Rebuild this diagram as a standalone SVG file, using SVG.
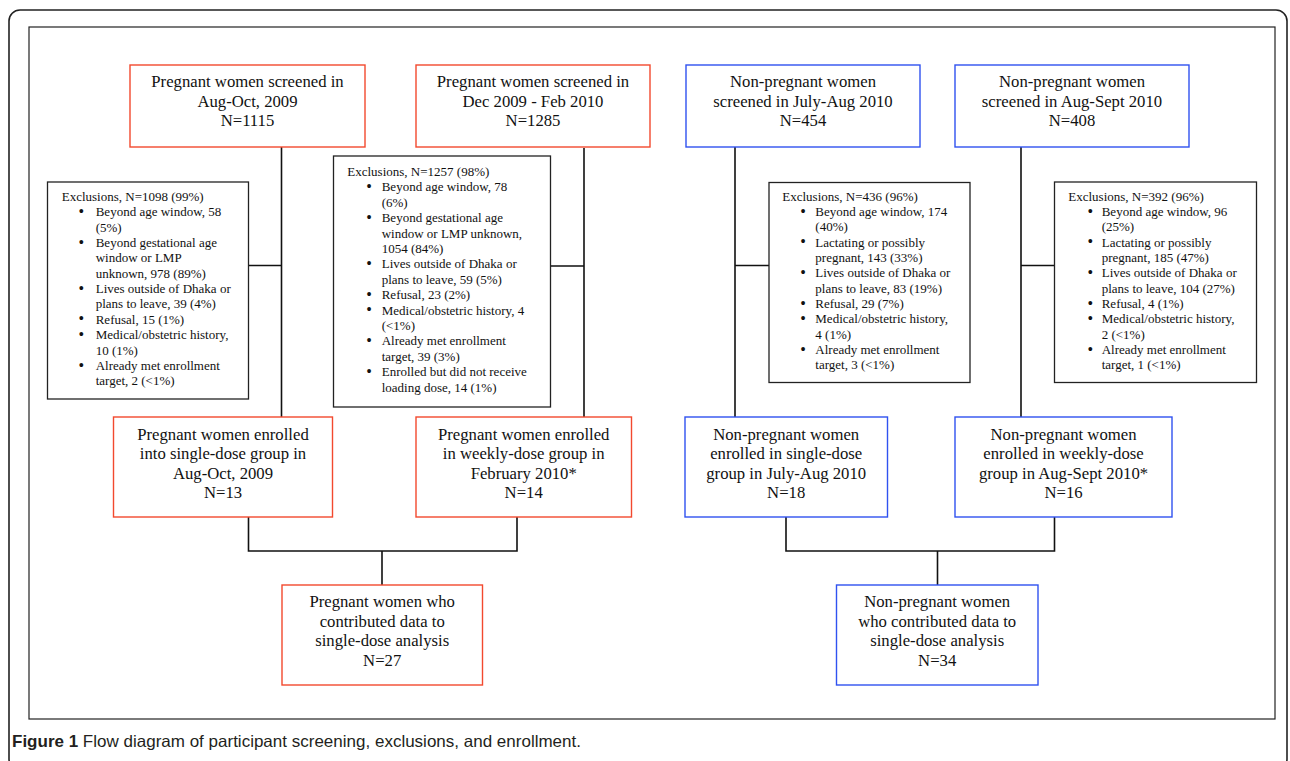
<svg xmlns="http://www.w3.org/2000/svg" width="1290" height="761" viewBox="0 0 1290 761">
<style>
.frame{fill:none;stroke:#222;stroke-width:1.6}
.inner{fill:none;stroke:#222;stroke-width:1.2}
.red{fill:#fff;stroke:#f2492e;stroke-width:1.4}
.blue{fill:#fff;stroke:#2f52f0;stroke-width:1.4}
.ex{fill:#fff;stroke:#222;stroke-width:1.3}
.conn{fill:none;stroke:#111;stroke-width:1.6}
.t{font-family:"Liberation Serif","Times New Roman",serif;font-size:16.7px;fill:#111;text-anchor:middle}
.e{font-family:"Liberation Serif","Times New Roman",serif;font-size:13px;fill:#111}
.b{font-size:16px}
.cap{font-family:"Liberation Sans",Arial,sans-serif;font-size:16.5px;fill:#231f20}
</style>
<rect width="1290" height="761" fill="#fff"/>
<rect class="frame" x="9" y="10" width="1278" height="760" rx="11"/>
<rect class="inner" x="29" y="27" width="1246" height="692"/>

<g id="connectors">
<path class="conn" d="M281.5 147V417M248.5 265.5H281.5"/>
<path class="conn" d="M584 148V417M551 266H584"/>
<path class="conn" d="M735 147V417M735 265.5H769"/>
<path class="conn" d="M1021 147V417M1021 265.5H1054"/>
<path class="conn" d="M248.5 517V551H517V517M382 551V585"/>
<path class="conn" d="M786 517V551H1054.5V517M937.5 551V585"/>
</g>

<g id="screen1">
<rect class="red" x="130" y="65" width="235" height="82"/>
<text class="t"><tspan x="247.5" y="87">Pregnant women screened in</tspan><tspan x="247.5" y="106.6">Aug-Oct, 2009</tspan><tspan x="247.5" y="126.2">N=1115</tspan></text>
</g>
<g id="screen2">
<rect class="red" x="416" y="65" width="234" height="82"/>
<text class="t"><tspan x="533" y="87">Pregnant women screened in</tspan><tspan x="533" y="106.6">Dec 2009 - Feb 2010</tspan><tspan x="533" y="126.2">N=1285</tspan></text>
</g>
<g id="screen3">
<rect class="blue" x="686" y="65" width="234" height="82"/>
<text class="t"><tspan x="803" y="87">Non-pregnant women</tspan><tspan x="803" y="106.6">screened in July-Aug 2010</tspan><tspan x="803" y="126.2">N=454</tspan></text>
</g>
<g id="screen4">
<rect class="blue" x="955" y="65" width="234" height="82"/>
<text class="t"><tspan x="1072" y="87">Non-pregnant women</tspan><tspan x="1072" y="106.6">screened in Aug-Sept 2010</tspan><tspan x="1072" y="126.2">N=408</tspan></text>
</g>

<g id="excl1">
<rect class="ex" x="47.5" y="182" width="201" height="217"/>
<text class="e"><tspan x="61.7" y="201">Exclusions, N=1098 (99%)</tspan>
<tspan class="b" x="78.5" y="217">•</tspan><tspan x="95.7" y="216.35">Beyond age window, 58</tspan>
<tspan x="95.7" y="231.7">(5%)</tspan>
<tspan class="b" x="78.5" y="247.7">•</tspan><tspan x="95.7" y="247.05">Beyond gestational age</tspan>
<tspan x="95.7" y="262.4">window or LMP</tspan>
<tspan x="95.7" y="277.75">unknown, 978 (89%)</tspan>
<tspan class="b" x="78.5" y="293.75">•</tspan><tspan x="95.7" y="293.1">Lives outside of Dhaka or</tspan>
<tspan x="95.7" y="308.45">plans to leave, 39 (4%)</tspan>
<tspan class="b" x="78.5" y="324.45">•</tspan><tspan x="95.7" y="323.8">Refusal, 15 (1%)</tspan>
<tspan class="b" x="78.5" y="339.8">•</tspan><tspan x="95.7" y="339.15">Medical/obstetric history,</tspan>
<tspan x="95.7" y="354.5">10 (1%)</tspan>
<tspan class="b" x="78.5" y="370.5">•</tspan><tspan x="95.7" y="369.85">Already met enrollment</tspan>
<tspan x="95.7" y="385.2">target, 2 (&lt;1%)</tspan></text>
</g>

<g id="excl2">
<rect class="ex" x="333.5" y="156" width="217" height="251"/>
<text class="e"><tspan x="347.3" y="176">Exclusions, N=1257 (98%)</tspan>
<tspan class="b" x="366.2" y="192">•</tspan><tspan x="381.7" y="191.4">Beyond age window, 78</tspan>
<tspan x="381.7" y="206.8">(6%)</tspan>
<tspan class="b" x="366.2" y="222.8">•</tspan><tspan x="381.7" y="222.2">Beyond gestational age</tspan>
<tspan x="381.7" y="237.6">window or LMP unknown,</tspan>
<tspan x="381.7" y="253">1054 (84%)</tspan>
<tspan class="b" x="366.2" y="269">•</tspan><tspan x="381.7" y="268.4">Lives outside of Dhaka or</tspan>
<tspan x="381.7" y="283.8">plans to leave, 59 (5%)</tspan>
<tspan class="b" x="366.2" y="299.8">•</tspan><tspan x="381.7" y="299.2">Refusal, 23 (2%)</tspan>
<tspan class="b" x="366.2" y="315.2">•</tspan><tspan x="381.7" y="314.6">Medical/obstetric history, 4</tspan>
<tspan x="381.7" y="330">(&lt;1%)</tspan>
<tspan class="b" x="366.2" y="346">•</tspan><tspan x="381.7" y="345.4">Already met enrollment</tspan>
<tspan x="381.7" y="360.8">target, 39 (3%)</tspan>
<tspan class="b" x="366.2" y="376.8">•</tspan><tspan x="381.7" y="376.2">Enrolled but did not receive</tspan>
<tspan x="381.7" y="391.6">loading dose, 14 (1%)</tspan></text>
</g>

<g id="excl3">
<rect class="ex" x="769" y="182.5" width="201" height="200"/>
<text class="e"><tspan x="782.3" y="200.7">Exclusions, N=436 (96%)</tspan>
<tspan class="b" x="800.2" y="216.7">•</tspan><tspan x="815.3" y="216.03">Beyond age window, 174</tspan>
<tspan x="815.3" y="231.37">(40%)</tspan>
<tspan class="b" x="800.2" y="247.3">•</tspan><tspan x="815.3" y="246.7">Lactating or possibly</tspan>
<tspan x="815.3" y="262.03">pregnant, 143 (33%)</tspan>
<tspan class="b" x="800.2" y="278">•</tspan><tspan x="815.3" y="277.37">Lives outside of Dhaka or</tspan>
<tspan x="815.3" y="292.7">plans to leave, 83 (19%)</tspan>
<tspan class="b" x="800.2" y="308.7">•</tspan><tspan x="815.3" y="308.03">Refusal, 29 (7%)</tspan>
<tspan class="b" x="800.2" y="324">•</tspan><tspan x="815.3" y="323.37">Medical/obstetric history,</tspan>
<tspan x="815.3" y="338.7">4 (1%)</tspan>
<tspan class="b" x="800.2" y="354.7">•</tspan><tspan x="815.3" y="354.03">Already met enrollment</tspan>
<tspan x="815.3" y="369.37">target, 3 (&lt;1%)</tspan></text>
</g>

<g id="excl4">
<rect class="ex" x="1054.5" y="182" width="202" height="200.5"/>
<text class="e"><tspan x="1068.3" y="200.7">Exclusions, N=392 (96%)</tspan>
<tspan class="b" x="1087.5" y="216.7">•</tspan><tspan x="1101.7" y="216.03">Beyond age window, 96</tspan>
<tspan x="1101.7" y="231.37">(25%)</tspan>
<tspan class="b" x="1087.5" y="247.3">•</tspan><tspan x="1101.7" y="246.7">Lactating or possibly</tspan>
<tspan x="1101.7" y="262.03">pregnant, 185 (47%)</tspan>
<tspan class="b" x="1087.5" y="278">•</tspan><tspan x="1101.7" y="277.37">Lives outside of Dhaka or</tspan>
<tspan x="1101.7" y="292.7">plans to leave, 104 (27%)</tspan>
<tspan class="b" x="1087.5" y="308.7">•</tspan><tspan x="1101.7" y="308.03">Refusal, 4 (1%)</tspan>
<tspan class="b" x="1087.5" y="324">•</tspan><tspan x="1101.7" y="323.37">Medical/obstetric history,</tspan>
<tspan x="1101.7" y="338.7">2 (&lt;1%)</tspan>
<tspan class="b" x="1087.5" y="354.7">•</tspan><tspan x="1101.7" y="354.03">Already met enrollment</tspan>
<tspan x="1101.7" y="369.37">target, 1 (&lt;1%)</tspan></text>
</g>

<g id="enrol1">
<rect class="red" x="113.5" y="417" width="219" height="100"/>
<text class="t"><tspan x="223" y="439.5">Pregnant women enrolled</tspan><tspan x="223" y="459">into single-dose group in</tspan><tspan x="223" y="478.5">Aug-Oct, 2009</tspan><tspan x="223" y="498">N=13</tspan></text>
</g>
<g id="enrol2">
<rect class="red" x="416" y="417" width="215.5" height="100"/>
<text class="t"><tspan x="523.7" y="439.5">Pregnant women enrolled</tspan><tspan x="523.7" y="459">in weekly-dose group in</tspan><tspan x="523.7" y="478.5">February 2010*</tspan><tspan x="523.7" y="498">N=14</tspan></text>
</g>
<g id="enrol3">
<rect class="blue" x="685" y="417" width="202.5" height="100"/>
<text class="t"><tspan x="786.2" y="439.5">Non-pregnant women</tspan><tspan x="786.2" y="459">enrolled in single-dose</tspan><tspan x="786.2" y="478.5">group in July-Aug 2010</tspan><tspan x="786.2" y="498">N=18</tspan></text>
</g>
<g id="enrol4">
<rect class="blue" x="955" y="417" width="217" height="100"/>
<text class="t"><tspan x="1063.5" y="439.5">Non-pregnant women</tspan><tspan x="1063.5" y="459">enrolled in weekly-dose</tspan><tspan x="1063.5" y="478.5">group in Aug-Sept 2010*</tspan><tspan x="1063.5" y="498">N=16</tspan></text>
</g>

<g id="analysis1">
<rect class="red" x="282" y="585" width="200.5" height="100"/>
<text class="t"><tspan x="382.2" y="607">Pregnant women who</tspan><tspan x="382.2" y="626.5">contributed data to</tspan><tspan x="382.2" y="646">single-dose analysis</tspan><tspan x="382.2" y="665.5">N=27</tspan></text>
</g>
<g id="analysis2">
<rect class="blue" x="836.5" y="585" width="201.5" height="100"/>
<text class="t"><tspan x="937.2" y="607">Non-pregnant women</tspan><tspan x="937.2" y="626.5">who contributed data to</tspan><tspan x="937.2" y="646">single-dose analysis</tspan><tspan x="937.2" y="665.5">N=34</tspan></text>
</g>

<text class="cap" x="12" y="747" textLength="569" lengthAdjust="spacingAndGlyphs"><tspan font-weight="bold">Figure 1</tspan> Flow diagram of participant screening, exclusions, and enrollment.</text>
</svg>
